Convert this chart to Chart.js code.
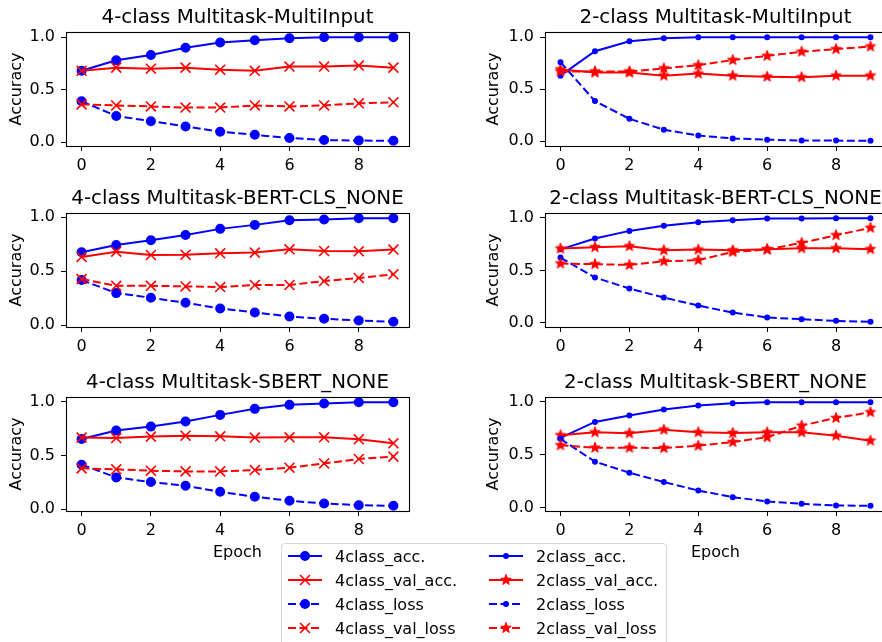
<!DOCTYPE html>
<html>
<head>
<meta charset="utf-8">
<script src="https://cdn.jsdelivr.net/npm/chart.js@4.4.0/dist/chart.umd.min.js"></script>
<style>
  html, body { margin: 0; padding: 0; background: #fff; overflow: hidden; }
  #fig { position: relative; width: 882px; height: 642px; overflow: hidden; font-family: 'DejaVu Sans', sans-serif; }
  #fig canvas.ax { position: absolute; }
  #leg { position: absolute; left: 281px; top: 543px; width: 384px; height: 120px;
         border: 1px solid #d6d6d6; border-radius: 4px; background: rgba(255,255,255,0.8); }
  .ent { position: absolute; height: 20px; display: flex; align-items: center; font-size: 16px; color: #000; white-space: nowrap; }
  .ent canvas { margin-right: 12px; }
</style>
</head>
<body>
<div id="fig"></div>
<script>
// ---- data: training curves per epoch ----
const epochs = [0, 1, 2, 3, 4, 5, 6, 7, 8, 9];
const xTicks = [0, 2, 4, 6, 8];
const yTicks = [0, 0.5, 1.0];

const panelTitles = [
  '4-class Multitask-MultiInput',  '2-class Multitask-MultiInput',
  '4-class Multitask-BERT-CLS_NONE', '2-class Multitask-BERT-CLS_NONE',
  '4-class Multitask-SBERT_NONE',  '2-class Multitask-SBERT_NONE'
];
const legend4 = ['4class_acc.', '4class_val_acc.', '4class_loss', '4class_val_loss'];
const legend2 = ['2class_acc.', '2class_val_acc.', '2class_loss', '2class_val_loss'];

// MultiInput
const mi4Acc     = [0.68, 0.78, 0.83, 0.90, 0.95, 0.97, 0.99, 1.00, 1.00, 1.00];
const mi4ValAcc  = [0.68, 0.71, 0.70, 0.71, 0.69, 0.68, 0.72, 0.72, 0.73, 0.71];
const mi4Loss    = [0.39, 0.25, 0.20, 0.15, 0.10, 0.07, 0.04, 0.02, 0.016, 0.013];
const mi4ValLoss = [0.36, 0.35, 0.34, 0.33, 0.33, 0.35, 0.34, 0.35, 0.37, 0.38];
const mi2Acc     = [0.63, 0.865, 0.96, 0.99, 1.00, 1.00, 1.00, 1.00, 1.00, 1.00];
const mi2ValAcc  = [0.69, 0.66, 0.66, 0.63, 0.65, 0.63, 0.62, 0.615, 0.63, 0.63];
const mi2Loss    = [0.76, 0.385, 0.215, 0.11, 0.054, 0.026, 0.014, 0.006, 0.005, 0.003];
const mi2ValLoss = [0.67, 0.67, 0.67, 0.70, 0.73, 0.78, 0.82, 0.86, 0.885, 0.91];

// BERT-CLS_NONE
const bc4Acc     = [0.675, 0.743, 0.786, 0.836, 0.892, 0.929, 0.972, 0.978, 0.991, 0.991];
const bc4ValAcc  = [0.632, 0.681, 0.65, 0.653, 0.666, 0.672, 0.703, 0.687, 0.684, 0.70];
const bc4Loss    = [0.418, 0.297, 0.254, 0.207, 0.155, 0.118, 0.080, 0.059, 0.043, 0.031];
const bc4ValLoss = [0.427, 0.365, 0.365, 0.359, 0.353, 0.372, 0.372, 0.409, 0.437, 0.471];
const bc2Acc     = [0.70, 0.803, 0.876, 0.924, 0.959, 0.978, 0.994, 0.995, 0.997, 0.997];
const bc2ValAcc  = [0.708, 0.721, 0.73, 0.692, 0.698, 0.692, 0.702, 0.711, 0.711, 0.702];
const bc2Loss    = [0.622, 0.432, 0.327, 0.241, 0.165, 0.098, 0.051, 0.035, 0.019, 0.01];
const bc2ValLoss = [0.565, 0.559, 0.552, 0.587, 0.597, 0.676, 0.698, 0.762, 0.835, 0.905];

// SBERT_NONE
const sb4Acc     = [0.652, 0.73, 0.767, 0.814, 0.876, 0.932, 0.969, 0.981, 0.994, 0.994];
const sb4ValAcc  = [0.665, 0.661, 0.674, 0.683, 0.677, 0.665, 0.668, 0.668, 0.649, 0.612];
const sb4Loss    = [0.413, 0.295, 0.252, 0.217, 0.161, 0.115, 0.078, 0.053, 0.037, 0.031];
const sb4ValLoss = [0.379, 0.37, 0.357, 0.351, 0.351, 0.363, 0.385, 0.425, 0.466, 0.488];
const sb2Acc     = [0.66, 0.81, 0.87, 0.927, 0.965, 0.987, 0.997, 0.997, 0.997, 0.997];
const sb2ValAcc  = [0.684, 0.712, 0.703, 0.737, 0.712, 0.706, 0.712, 0.712, 0.68, 0.633];
const sb2Loss    = [0.65, 0.434, 0.329, 0.241, 0.161, 0.098, 0.057, 0.035, 0.019, 0.016];
const sb2ValLoss = [0.589, 0.566, 0.566, 0.563, 0.585, 0.62, 0.665, 0.775, 0.848, 0.902];

const BLUE = '#0000ff', RED = '#ff0000';
const FONT = "'DejaVu Sans', sans-serif";
const DASH = [8, 3.5];

Chart.defaults.font.family = FONT;
Chart.defaults.color = '#000';

// filled five-point star used as a point image
function starCanvas(r, color) {
  const s = Math.ceil(r * 2 + 3);
  const c = document.createElement('canvas');
  c.width = c.height = s;
  const g = c.getContext('2d');
  g.beginPath();
  for (let i = 0; i < 10; i++) {
    const rr = i % 2 ? r * 0.42 : r;
    const a = -Math.PI / 2 + i * Math.PI / 5;
    g.lineTo(s / 2 + rr * Math.cos(a), s / 2 + rr * Math.sin(a));
  }
  g.closePath();
  g.fillStyle = color; g.fill();
  g.lineWidth = 1; g.strokeStyle = color; g.stroke();
  return c;
}
const starImg = starCanvas(5.5, RED);

const MK = {
  dot4:  { style: 'circle',   r: 4.3, bw: 1.4 },
  x4:    { style: 'crossRot', r: 7,   bw: 1.6 },
  dot2:  { style: 'circle',   r: 2.3, bw: 1.4 },
  star2: { style: starImg,    r: 5.5, bw: 1 },
};

function series(vals, color, dashed, mk, order) {
  return {
    data: vals.map((v, i) => ({ x: epochs[i], y: v })),
    borderColor: color, backgroundColor: color,
    borderWidth: 2, borderDash: dashed ? DASH : [],
    pointStyle: mk.style, pointRadius: mk.r, pointBorderWidth: mk.bw,
    pointBackgroundColor: color, pointBorderColor: color,
    pointHoverRadius: mk.r, tension: 0, fill: false, order
  };
}

const panels = [
  { acc: mi4Acc, valAcc: mi4ValAcc, loss: mi4Loss, valLoss: mi4ValLoss, k: 4 },
  { acc: mi2Acc, valAcc: mi2ValAcc, loss: mi2Loss, valLoss: mi2ValLoss, k: 2 },
  { acc: bc4Acc, valAcc: bc4ValAcc, loss: bc4Loss, valLoss: bc4ValLoss, k: 4 },
  { acc: bc2Acc, valAcc: bc2ValAcc, loss: bc2Loss, valLoss: bc2ValLoss, k: 2 },
  { acc: sb4Acc, valAcc: sb4ValAcc, loss: sb4Loss, valLoss: sb4ValLoss, k: 4 },
  { acc: sb2Acc, valAcc: sb2ValAcc, loss: sb2Loss, valLoss: sb2ValLoss, k: 2 },
];

// axes box + subplot title
const frame = {
  id: 'frame',
  afterDraw(chart, args, opts) {
    const { ctx, chartArea: a } = chart;
    ctx.save();
    ctx.strokeStyle = '#000';
    ctx.lineWidth = 1.1;
    ctx.strokeRect(Math.round(a.left) + 0.5, Math.round(a.top) + 0.5, Math.round(a.width), Math.round(a.height));
    ctx.font = '19.8px ' + FONT;
    ctx.fillStyle = '#000';
    ctx.textAlign = 'center';
    ctx.textBaseline = 'alphabetic';
    ctx.fillText(opts.text, (a.left + a.right) / 2, a.top - 9);
    ctx.restore();
  }
};

const axTop = [32, 213, 397];
const axH = 114;
const fig = document.getElementById('fig');
const _c = {};

panels.forEach((p, i) => {
  const row = Math.floor(i / 2), col = i % 2;
  const last = row === 2;
  const xH = last ? 56 : 30;
  const yW = col ? 104 : 66;
  const cv = document.createElement('canvas');
  cv.className = 'ax';
  cv.width = col ? 459 : 441;
  cv.height = 32 + axH + xH;
  cv.style.left = (col ? 441 : 0) + 'px';
  cv.style.top = (axTop[row] - 32) + 'px';
  fig.appendChild(cv);

  const all = [...p.acc, ...p.valAcc, ...p.loss, ...p.valLoss];
  const lo = Math.min(...all), hi = Math.max(...all), m = (hi - lo) * 0.05;

  const mA = p.k === 4 ? MK.dot4 : MK.dot2;
  const mV = p.k === 4 ? MK.x4 : MK.star2;

  _c['ax' + i] = new Chart(cv, {
    type: 'line',
    data: {
      datasets: [
        series(p.acc, BLUE, false, mA, 3),
        series(p.valAcc, RED, false, mV, 2),
        series(p.loss, BLUE, true, mA, 1),
        series(p.valLoss, RED, true, mV, 0),
      ]
    },
    options: {
      responsive: false,
      animation: false,
      devicePixelRatio: 1,
      events: [],
      layout: { padding: { top: 32, right: col ? 14 : 32, left: 0, bottom: 0 } },
      plugins: { legend: { display: false }, tooltip: { enabled: false }, frame: { text: panelTitles[i] } },
      scales: {
        x: {
          type: 'linear', min: -0.45, max: 9.45,
          afterBuildTicks: s => { s.ticks = xTicks.map(v => ({ value: v })); },
          afterFit: s => { s.height = xH; },
          grid: { display: true, drawOnChartArea: false, drawTicks: true, tickLength: 5, color: '#000', lineWidth: 1 },
          border: { display: false },
          ticks: { font: { size: 16 }, color: '#000', padding: 5, maxRotation: 0, autoSkip: false, callback: v => String(v) },
          title: { display: last, text: 'Epoch', font: { size: 16 }, color: '#000', padding: { top: 0, bottom: 5 } }
        },
        y: {
          type: 'linear', min: lo - m, max: hi + m,
          afterBuildTicks: s => { s.ticks = yTicks.map(v => ({ value: v })); },
          afterFit: s => { s.width = yW; },
          grid: { display: true, drawOnChartArea: false, drawTicks: true, tickLength: 5, color: '#000', lineWidth: 1 },
          border: { display: false },
          ticks: { font: { size: 16 }, color: '#000', padding: 6, autoSkip: false, callback: v => v.toFixed(1) },
          title: { display: true, text: 'Accuracy', font: { size: 16 }, color: '#000', padding: { top: col ? 43 : 7, bottom: 0 } }
        }
      }
    },
    plugins: [frame]
  });
});

// ---- shared legend ----
function drawMarker(g, mk, x, y, color) {
  g.fillStyle = color; g.strokeStyle = color;
  if (mk.style === 'circle') {
    g.lineWidth = mk.bw;
    g.beginPath(); g.arc(x, y, mk.r, 0, Math.PI * 2); g.fill(); g.stroke();
  } else if (mk.style === 'crossRot') {
    const d = mk.r * Math.SQRT1_2;
    g.lineWidth = mk.bw;
    g.beginPath();
    g.moveTo(x - d, y - d); g.lineTo(x + d, y + d);
    g.moveTo(x + d, y - d); g.lineTo(x - d, y + d);
    g.stroke();
  } else {
    g.drawImage(mk.style, x - mk.style.width / 2, y - mk.style.height / 2);
  }
}

const leg = document.createElement('div');
leg.id = 'leg';
fig.appendChild(leg);

const handles = [
  [BLUE, false, MK.dot4], [RED, false, MK.x4], [BLUE, true, MK.dot4], [RED, true, MK.x4],
  [BLUE, false, MK.dot2], [RED, false, MK.star2], [BLUE, true, MK.dot2], [RED, true, MK.star2],
];
const labels = [...legend4, ...legend2];
handles.forEach(([color, dashed, mk], i) => {
  const col = Math.floor(i / 4), row = i % 4;
  const ent = document.createElement('div');
  ent.className = 'ent';
  ent.style.left = (col ? 206 : 5) + 'px';
  ent.style.top = (2 + row * 24) + 'px';
  const cv = document.createElement('canvas');
  cv.width = 36; cv.height = 20;
  const g = cv.getContext('2d');
  g.strokeStyle = color; g.lineWidth = 2;
  g.setLineDash(dashed ? DASH : []);
  g.beginPath(); g.moveTo(1, 10); g.lineTo(35, 10); g.stroke();
  g.setLineDash([]);
  drawMarker(g, mk, 18, 10, color);
  const sp = document.createElement('span');
  sp.textContent = labels[i];
  ent.appendChild(cv); ent.appendChild(sp);
  leg.appendChild(ent);
});
</script>
</body>
</html>
